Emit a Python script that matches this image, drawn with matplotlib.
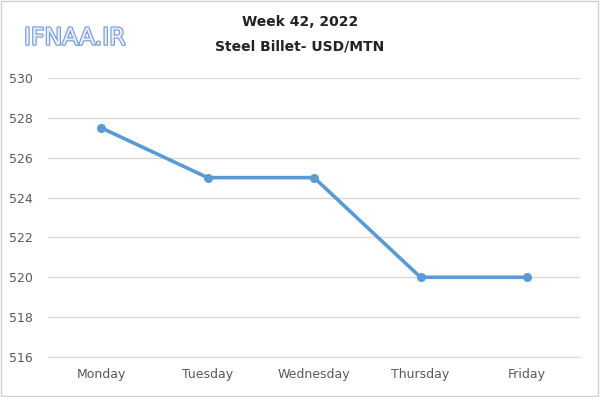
import matplotlib
matplotlib.use("Agg")
import matplotlib.pyplot as plt
import matplotlib.patheffects as pe

days = ["Monday", "Tuesday", "Wednesday", "Thursday", "Friday"]
prices = [527.5, 525, 525, 520, 520]
yticks = [516, 518, 520, 522, 524, 526, 528, 530]

fig = plt.figure(figsize=(6.0, 3.97), dpi=100)
ax = fig.add_axes([0.08, 0.1008, 0.887, 0.7027])

x = list(range(len(days)))
ax.plot(x, prices, color="#5B9BD5", lw=2.6, marker="o", ms=5.5, zorder=3)
ax.set_xlim(-0.5, 4.5)
ax.set_ylim(516, 530)
ax.set_yticks(yticks)
ax.set_yticklabels([str(v) for v in yticks])
ax.set_xticks(x)
ax.set_xticklabels(days)
ax.grid(axis="y", color="#D9D9D9", lw=1)
ax.set_axisbelow(True)
for s in ["top", "right", "left"]:
    ax.spines[s].set_visible(False)
ax.spines["bottom"].set_color("#D9D9D9")
ax.tick_params(axis="both", length=0, labelsize=9, colors="#595959", pad=8)
ax.tick_params(axis="y", pad=11)

fig.text(0.5, 0.945, "Week 42, 2022", ha="center", va="center", fontsize=10, fontweight="bold", color="#222222")
fig.text(0.5, 0.882, "Steel Billet- USD/MTN", ha="center", va="center", fontsize=10, fontweight="bold", color="#222222")
logo = fig.text(0.040, 0.905, "IFNAA.IR", ha="left", va="center", fontsize=17, color="#E4EEFA",
                path_effects=[pe.withStroke(linewidth=1.6, foreground="#7597D6")])

fig.patches.append(plt.Rectangle((0.002, 0.003), 0.995, 0.994, transform=fig.transFigure,
                                 fill=False, edgecolor="#D0D0D0", lw=1))
fig.savefig("out.png", dpi=100)
